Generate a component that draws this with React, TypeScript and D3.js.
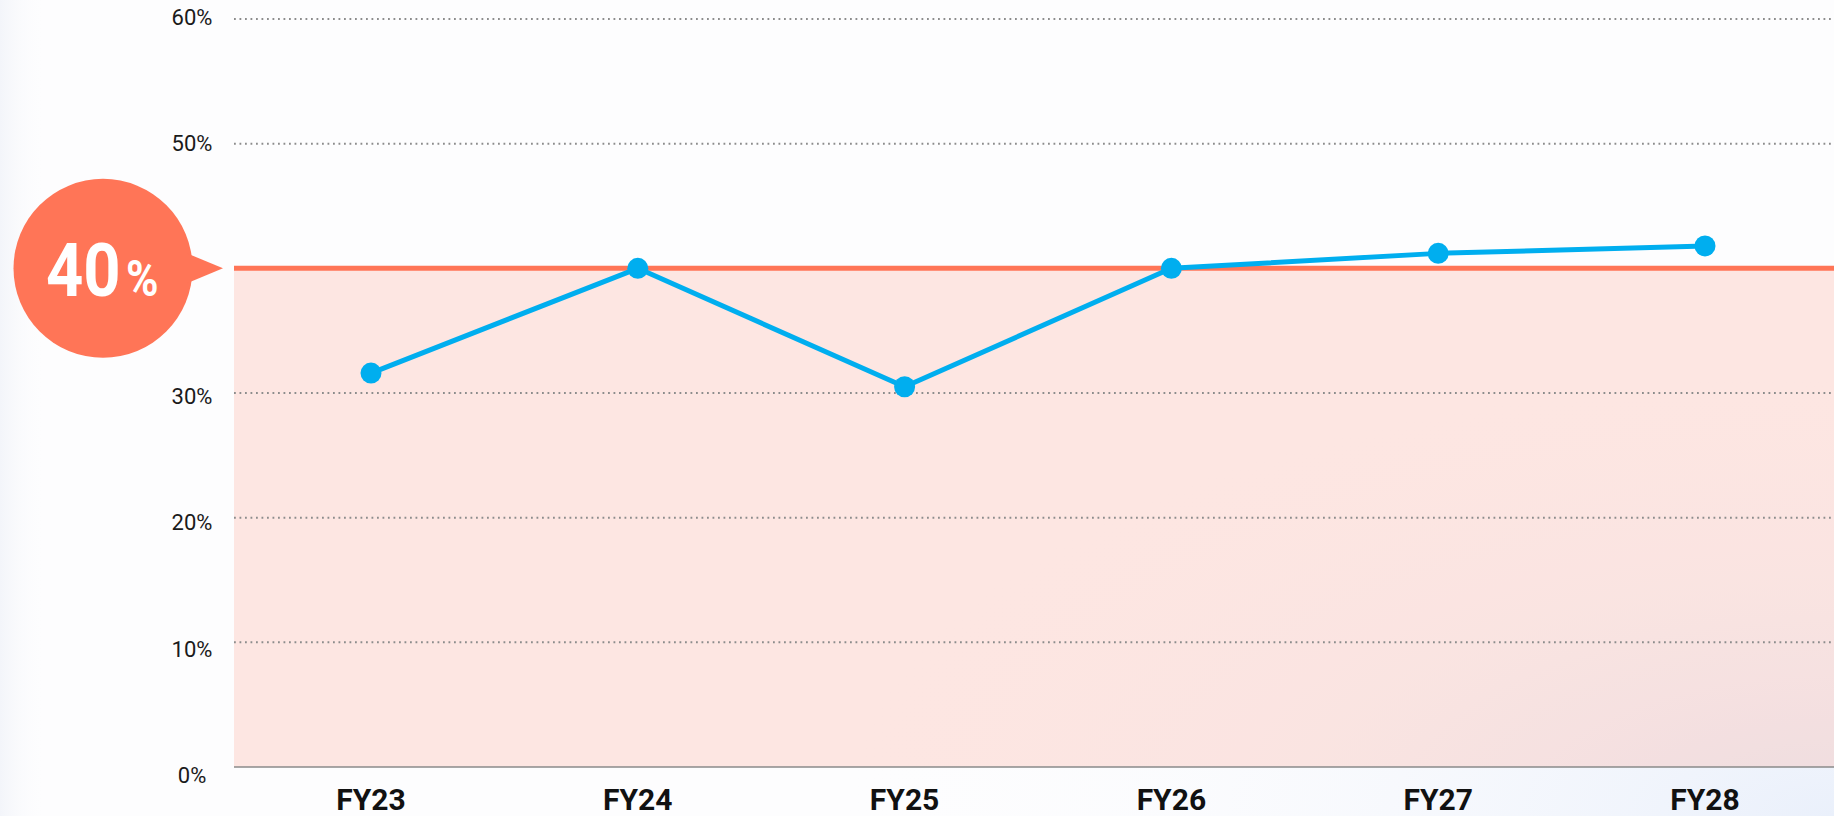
import React from 'react'
import * as d3 from 'd3'

/** Fiscal years on the x axis */
const years: string[] = ['FY23', 'FY24', 'FY25', 'FY26', 'FY27', 'FY28']

/** Share per year, in percent */
const shares: number[] = [31.6, 40, 30.5, 40, 41.2, 41.8]

/** Y ticks in percent (40% sits under the bubble, so no label for it) */
const yTicks: number[] = [0, 10, 20, 30, 50, 60]
const gridTicks: number[] = [10, 20, 30, 50, 60]

/** Target line and its bubble text */
const target = 40
const targetLabel = { value: '40', unit: '%' }

const WIDTH = 1834
const HEIGHT = 816
const RED = '#ff7557'
const BLUE = '#00aeef'

interface ScaleProps {
    x: d3.ScalePoint<string>,
    y: d3.ScaleLinear<number, number>,
    left: number,
    right: number
}

/**
 * Dotted gridlines, baseline and percent labels
 */
const YAxis = (props: ScaleProps & { labelY: d3.ScaleLinear<number, number> }) => {
    const { y, left, right, labelY } = props
    return (
        <g className='axis axis-y'>
            {gridTicks.map((t) => (
                <line
                    key={t}
                    x1={left}
                    x2={right}
                    y1={y(t)}
                    y2={y(t)}
                    stroke='#8c8c8c'
                    strokeWidth={2}
                    strokeDasharray='1.8 3.7'
                />
            ))}
            <line x1={left} x2={right} y1={y(0)} y2={y(0)} stroke='#8a8a8a' strokeWidth={1.6} />
            {yTicks.map((t) => (
                <text
                    key={t}
                    x={192}
                    y={labelY(t)}
                    dy='0.36em'
                    textAnchor='middle'
                    fontFamily='Roboto, sans-serif'
                    fontSize={22}
                    fontWeight={400}
                    fill='#1a1a1a'
                >
                    {t}%
                </text>
            ))}
        </g>
    )
}

/**
 * Year labels under the plot
 */
const XAxis = (props: ScaleProps) => (
    <g className='axis axis-x'>
        {years.map((yr) => (
            <text
                key={yr}
                x={props.x(yr)}
                y={810}
                textAnchor='middle'
                fontFamily='Roboto, sans-serif'
                fontSize={30}
                fontWeight={700}
                fill='#111'
            >
                {yr}
            </text>
        ))}
    </g>
)

/**
 * Coral bubble pointing at the target line
 */
const TargetBubble = ({ cy }: { cy: number }) => {
    const cx = 103
    const r = 89.5
    return (
        <g>
            <circle cx={cx} cy={cy} r={r} fill={RED} />
            <path d={`M${cx + 84},${cy - 15} L${cx + 120},${cy} L${cx + 84},${cy + 15} Z`} fill={RED} />
            <g transform={`translate(46, ${cy + 28}) scale(0.88, 1)`}>
                <text x={0} y={0} fontFamily='Roboto, sans-serif' fontWeight={700} fill='#fff'>
                    <tspan fontSize={74}>{targetLabel.value}</tspan>
                    <tspan fontSize={50} dx={6}>{targetLabel.unit}</tspan>
                </text>
            </g>
        </g>
    )
}

export default function App () {
    const left = 234
    const right = WIDTH

    const x = d3.scalePoint<string>().domain(years).range([371, 1705])
    const y = d3.scaleLinear().domain([0, 60]).range([767, 19])
    // the percent labels drift a little from the gridlines in the original
    const labelY = d3.scaleLinear().domain([0, 60]).range([775, 17])

    const line = d3.line<number>()
        .x((_, i) => x(years[i]) as number)
        .y((d) => y(d))

    return (
        <div style={{ position: 'absolute', left: 0, top: 0 }}>
            <svg width={WIDTH} height={HEIGHT} style={{ display: 'block' }}>
                <defs>
                    <radialGradient id='bgBR' cx='1' cy='1' r='0.55' gradientUnits='objectBoundingBox'>
                        <stop offset='0' stopColor='#eaf0fb' />
                        <stop offset='1' stopColor='#fdfdfe' stopOpacity={0} />
                    </radialGradient>
                    <linearGradient id='bgL' x1='0' x2='1' y1='0' y2='0'>
                        <stop offset='0' stopColor='#f3f5fa' />
                        <stop offset='0.025' stopColor='#fdfdfe' stopOpacity={0} />
                    </linearGradient>
                </defs>
                <rect width={WIDTH} height={HEIGHT} fill='#fdfdfe' />
                <rect width={WIDTH} height={HEIGHT} fill='url(#bgL)' />
                <rect width={WIDTH} height={HEIGHT} fill='url(#bgBR)' />

                {/* shaded area under the target */}
                <rect
                    x={left}
                    y={y(target)}
                    width={right - left}
                    height={y(0) - y(target)}
                    fill={RED}
                    opacity={0.17}
                />

                <YAxis x={x} y={y} left={left} right={right} labelY={labelY} />

                <line x1={left} x2={right} y1={y(target)} y2={y(target)} stroke={RED} strokeWidth={5} />

                <path d={line(shares) || ''} fill='none' stroke={BLUE} strokeWidth={5} strokeLinejoin='round' />
                {shares.map((d, i) => (
                    <circle key={years[i]} cx={x(years[i])} cy={y(d)} r={10.5} fill={BLUE} />
                ))}

                <XAxis x={x} y={y} left={left} right={right} />
                <TargetBubble cy={y(target)} />
            </svg>
        </div>
    )
}
